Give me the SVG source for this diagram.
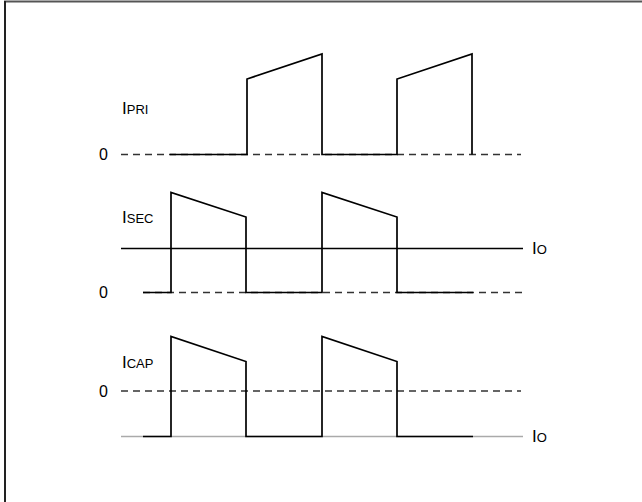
<svg xmlns="http://www.w3.org/2000/svg" width="642" height="502" viewBox="0 0 642 502">
<style>
.w{stroke:#000;stroke-width:1.7;fill:none;stroke-linejoin:miter}
.d{stroke:#333;stroke-width:1.7;fill:none;stroke-dasharray:7 5}
.g{stroke:#aaa;stroke-width:1.7;fill:none}
.t{font-family:"Liberation Sans",Arial,sans-serif;fill:#000}
.big{font-size:17px}
.sub{font-size:13px}
.zero{font-size:16px}
</style>
<rect width="642" height="502" fill="#fff"/>
<line x1="4" y1="1.5" x2="642" y2="1.5" stroke="#555" stroke-width="2"/>
<line x1="5" y1="1" x2="5" y2="502" stroke="#222" stroke-width="2"/>
<g id="connectors">
<line class="d" x1="121" y1="154.5" x2="521" y2="154.5"/>
<path class="w" d="M170,154.5 H247 V79 L322,54 V154.5 H397 V79 L472,54 V154.5"/>
<line class="d" x1="143" y1="292.5" x2="523" y2="292.5"/>
<line class="w" x1="121" y1="248.5" x2="523" y2="248.5"/>
<path class="w" d="M143,292.5 H171 V192.5 L246,217 V292.5 H322 V192.5 L397,217 V292.5 H473"/>
<line class="d" x1="121" y1="391" x2="521" y2="391"/>
<line class="g" x1="121" y1="436.5" x2="523" y2="436.5"/>
<path class="w" d="M143,436.5 H171 V336.5 L246,361.5 V436.5 H322 V336.5 L397,361.5 V436.5 H473"/>
</g>
<g id="label-ipri"><text class="t" x="122" y="114"><tspan class="big">I</tspan><tspan class="sub">PRI</tspan></text></g>
<g id="label-0-pri"><text class="t zero" x="99" y="160">0</text></g>
<g id="label-isec"><text class="t" x="122" y="223"><tspan class="big">I</tspan><tspan class="sub">SEC</tspan></text></g>
<g id="label-io-sec"><text class="t" x="532" y="254"><tspan class="big">I</tspan><tspan class="sub">O</tspan></text></g>
<g id="label-0-sec"><text class="t zero" x="99" y="298">0</text></g>
<g id="label-icap"><text class="t" x="122" y="368"><tspan class="big">I</tspan><tspan class="sub">CAP</tspan></text></g>
<g id="label-0-cap"><text class="t zero" x="99" y="396.5">0</text></g>
<g id="label-io-cap"><text class="t" x="532" y="442"><tspan class="big">I</tspan><tspan class="sub">O</tspan></text></g>
</svg>
